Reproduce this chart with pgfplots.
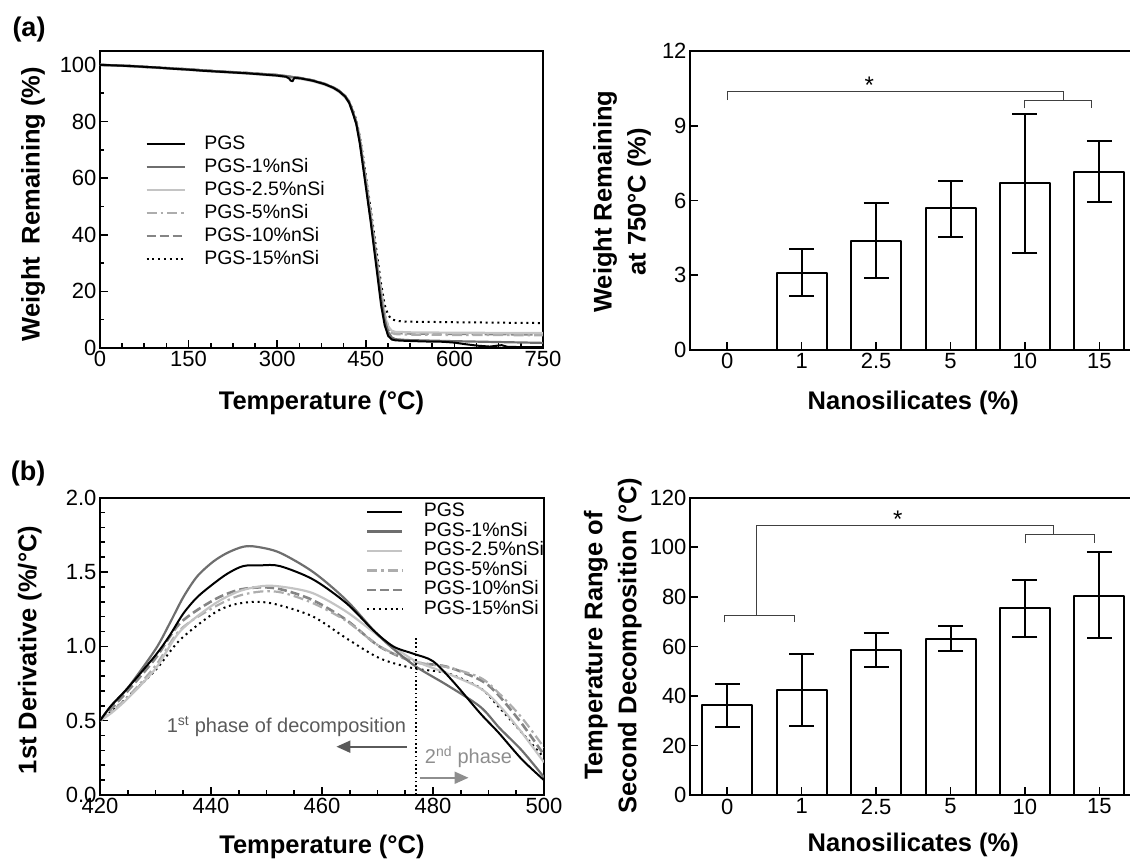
\documentclass[border=0pt]{standalone}
\usepackage{fontspec}
\setmainfont{Liberation Sans}
\usepackage{pgfplots}
\pgfplotsset{compat=1.18}
\usetikzlibrary{arrows.meta}

\definecolor{cOne}{HTML}{6E6E6E}
\definecolor{cTwo}{HTML}{C4C4C4}
\definecolor{cFive}{HTML}{ADADAD}
\definecolor{cTen}{HTML}{858585}
\definecolor{txtA}{HTML}{5A5A5A}
\definecolor{txtB}{HTML}{8E8E8E}

\newcommand{\tickfont}{\fontsize{22}{26}\selectfont}
\newcommand{\labfont}{\bfseries\fontsize{25.5}{34}\selectfont}
\newcommand{\legfont}{\fontsize{19.5}{22}\selectfont}

\tikzset{bracket/.style={line width=1pt, black!75}}

\pgfplotsset{
  panel/.style={
    scale only axis,
    tick pos=left,
    tick align=inside,
    major tick length=8pt,
    minor tick length=4.5pt,
    tick style={line width=1.6pt, black},
    axis line style={line width=1.8pt},
    tick label style={font=\tickfont},
    /pgf/number format/assume math mode=true,
    label style={font=\labfont},
    every axis plot/.append style={line join=round},
  },
  s0/.style={black, line width=2pt},
  s1/.style={cOne, line width=2.2pt},
  s25/.style={cTwo, line width=2.2pt},
  s5/.style={cFive, line width=2.2pt, dash pattern=on 10pt off 4pt on 2.5pt off 4pt},
  s10/.style={cTen, line width=2.6pt, dash pattern=on 9pt off 4pt},
  s15/.style={black, line width=2pt, dash pattern=on 2pt off 3.8pt},
  barstyle/.style={ybar, bar width=50pt, draw=black, fill=white, line width=2pt,
    error bars/.cd, y dir=both, y explicit,
    error bar style={line width=2pt},
    error mark options={rotate=90, mark size=12.5pt, line width=2pt}},
}

\begin{document}
\begin{tikzpicture}
\path[use as bounding box] (0,0) rectangle (1130pt,862pt);
\clip (0,0) rectangle (1130pt,862pt);

% (a) TGA curves
\begin{axis}[panel,
  at={(100pt,811.3pt)}, anchor=north west,
  width=443pt, height=297.3pt,
  xmin=0, xmax=750, ymin=0, ymax=105,
  xtick={0,150,...,750}, ytick={0,20,...,100},
  minor x tick num=3, minor y tick num=1,
  xlabel={Temperature (°C)},
  ylabel={Weight\hspace{0.5em}Remaining (\%)},
  xlabel style={at={(axis description cs:0.5,-0.185)}, anchor=center},
  ylabel style={at={(axis description cs:-0.151,0.484)}, anchor=center},
  legend style={at={(0.1016,0.7165)}, anchor=north west, draw=none, fill=none,
    inner sep=0pt, row sep=5pt, column sep=18.5pt, font=\legfont,
    nodes={inner sep=0pt, text height=14pt, text depth=4pt}},
  legend cell align=left, reverse legend,
  legend image code/.code={\draw[#1] (0pt,0pt) -- (38pt,0pt);},
]
\addplot[s15] coordinates {(0,100) (50,99.6) (100,99.0) (150,98.4) (200,97.7) (250,97.1) (300,96.4) (340,95.3) (360,94.5) (380,93.3) (395,92.0) (405,90.8) (415,89.0) (422,87.0) (428,84.0) (434,80.5) (440,74.5) (446,67) (452,58) (458,49.5) (464,40.5) (470,31.5) (476,22.5) (482,15.2) (488,11.6) (494,10.1) (505,9.5) (520,9.3) (600,9.1) (700,8.9) (750,8.8)};
\addlegendentry{PGS-15\%nSi}
\addplot[s10] coordinates {(0,100) (50,99.6) (100,99.0) (150,98.4) (200,97.7) (250,97.1) (300,96.4) (340,95.3) (360,94.5) (380,93.3) (395,92.0) (405,90.8) (415,88.9) (422,86.8) (428,83.4) (434,79.6) (440,73.5) (446,65) (452,56.5) (458,47.5) (464,38) (470,28.5) (476,19.5) (482,11.6) (488,7.3) (494,5.7) (500,5.3) (530,5.1) (600,5.0) (750,4.8)};
\addlegendentry{PGS-10\%nSi}
\addplot[s5] coordinates {(0,100) (50,99.6) (100,99.0) (150,98.4) (200,97.7) (250,97.1) (300,96.4) (340,95.3) (360,94.5) (380,93.3) (395,92.0) (405,90.8) (415,88.9) (422,86.8) (428,83.4) (434,79.6) (440,73.5) (446,65) (452,56.5) (458,47.5) (464,38) (470,28.5) (476,19.5) (482,11.3) (488,6.9) (494,5.3) (500,4.9) (530,4.7) (600,4.6) (750,4.5)};
\addlegendentry{PGS-5\%nSi}
\addplot[s25] coordinates {(0,100) (50,99.5) (100,98.9) (150,98.2) (200,97.5) (250,96.9) (300,96.1) (340,95.0) (360,94.2) (380,93.0) (395,91.7) (405,90.4) (415,88.5) (422,86.5) (428,83.2) (434,79.5) (440,73.5) (446,65) (452,56) (458,47) (464,37.5) (470,28) (476,19) (482,11.3) (488,7.5) (494,6.1) (500,5.7) (530,5.5) (600,5.4) (700,5.3) (750,5.3)};
\addlegendentry{PGS-2.5\%nSi}
\addplot[s1] coordinates {(0,100) (50,99.6) (100,99.0) (150,98.4) (200,97.7) (250,97.1) (300,96.4) (340,95.3) (360,94.5) (380,93.3) (395,92.0) (405,90.8) (415,89.0) (422,86.8) (428,83.5) (434,79.5) (440,73) (446,64) (452,55) (458,46) (464,36.5) (470,27) (476,17.5) (482,10) (488,5.6) (494,3.7) (500,3.1) (520,2.8) (560,2.6) (600,2.4) (650,2.2) (700,2.0) (750,1.8)};
\addlegendentry{PGS-1\%nSi}
\addplot[s0] coordinates {(0,100) (25,99.8) (50,99.6) (75,99.3) (100,99.0) (125,98.6) (150,98.3) (175,97.9) (200,97.6) (225,97.3) (250,97.0) (275,96.6) (300,96.2) (315,95.8) (320,95.2) (323,94.4) (326,94.2) (329,95.4) (340,95.2) (360,94.4) (380,93.2) (395,91.9) (405,90.6) (415,88.8) (422,86.5) (428,83) (434,79) (440,72) (446,63) (452,54) (458,45) (464,35) (470,25) (476,15) (482,8) (488,4.2) (494,3.0) (500,2.7) (520,2.5) (550,2.3) (580,2.2) (600,1.9) (620,1.3) (640,0.8) (660,0.5) (680,1.0) (690,0.4) (720,0.3) (750,0.3)};
\addlegendentry{PGS}
\end{axis}

% (a) residue bars
\begin{axis}[panel,
  at={(690pt,811pt)}, anchor=north west,
  width=446.6pt, height=299pt,
  xmin=-0.5, xmax=5.5, ymin=0, ymax=12,
  xtick={0,...,5}, xticklabels={0,1,2.5,5,10,15},
  ytick={0,3,...,12},
  axis on top,
  xlabel={Nanosilicates (\%)},
  ylabel={Weight Remaining\\at 750°C (\%)},
  xlabel style={at={(axis description cs:0.5,-0.177)}, anchor=center},
  ylabel style={align=center, at={(axis description cs:-0.152,0.496)}, anchor=center},
]
\addplot[barstyle] coordinates {
  (1,3.11) += (0,0.94) -= (0,0.93)
  (2,4.38) += (0,1.50) -= (0,1.48)
  (3,5.68) += (0,1.10) -= (0,1.16)
  (4,6.70) += (0,2.77) -= (0,2.82)
  (5,7.14) += (0,1.25) -= (0,1.22)
};
\draw[bracket] (axis cs:0,10.03) -- (axis cs:0,10.37) -- (axis cs:4.515,10.37) -- (axis cs:4.515,10.03);
\draw[bracket] (axis cs:4.0,9.70) -- (axis cs:4.0,10.03) -- (axis cs:4.9,10.03) -- (axis cs:4.9,9.70);
\node[font=\fontsize{24}{26}\selectfont, yshift=-4.5pt] at (axis cs:1.91,10.82) {*};
\end{axis}

% (b) DTG curves
\begin{axis}[panel,
  at={(100pt,364.3pt)}, anchor=north west,
  width=444pt, height=297.3pt,
  xmin=420, xmax=500, ymin=0, ymax=2,
  xtick={420,440,...,500}, ytick={0,0.5,...,2},
  minor x tick num=3, minor y tick num=4,
  yticklabel style={/pgf/number format/.cd, fixed, fixed zerofill, precision=1},
  xlabel={Temperature (°C)},
  ylabel={1st Derivative (\%/°C)},
  xlabel style={at={(axis description cs:0.5,-0.175)}, anchor=center},
  ylabel style={at={(axis description cs:-0.158,0.488)}, anchor=center},
  legend style={at={(0.599,0.983)}, anchor=north west, draw=none, fill=none,
    inner sep=0pt, row sep=1.5pt, column sep=20pt, font=\legfont,
    nodes={inner sep=0pt, text height=14pt, text depth=4pt}},
  legend cell align=left, reverse legend,
  legend image code/.code={\draw[#1] (0pt,0pt) -- (35pt,0pt);},
]
\addplot[s15, smooth] coordinates {(420,0.50) (422,0.56) (425,0.66) (430,0.84) (434.4,1.043) (440.4,1.22) (444,1.28) (448.2,1.30) (452,1.28) (458.4,1.20) (464.4,1.054) (470.4,0.92) (476.5,0.852) (482.5,0.82) (488.5,0.72) (491.8,0.594) (496,0.42) (500,0.25)};
\addlegendentry{PGS-15\%nSi}
\addplot[s10, smooth] coordinates {(420,0.50) (422,0.58) (425,0.70) (430,0.92) (434.4,1.155) (440.4,1.31) (445,1.38) (449.4,1.397) (453,1.38) (458.4,1.31) (464.4,1.177) (470.4,0.998) (476.5,0.897) (482.5,0.863) (488.5,0.774) (491.5,0.684) (496,0.48) (500,0.27)};
\addlegendentry{PGS-10\%nSi}
\addplot[s5, smooth] coordinates {(420,0.50) (422,0.56) (425,0.66) (430,0.87) (434.4,1.11) (440.4,1.26) (445,1.34) (449.4,1.37) (453,1.36) (458.4,1.29) (464.4,1.17) (470.4,1.0) (476.5,0.90) (482.5,0.86) (488.5,0.79) (492,0.68) (496,0.52) (500,0.32)};
\addlegendentry{PGS-5\%nSi}
\addplot[s25, smooth] coordinates {(420,0.50) (422,0.55) (425,0.65) (430,0.85) (434.4,1.10) (440.4,1.28) (445,1.37) (449.4,1.406) (453,1.40) (458.4,1.357) (464.4,1.233) (470.4,1.065) (476.5,0.908) (482.5,0.819) (488.5,0.718) (492,0.60) (496,0.42) (500,0.22)};
\addlegendentry{PGS-2.5\%nSi}
\addplot[s1, smooth] coordinates {(420,0.50) (422,0.60) (425,0.72) (430,0.98) (432.5,1.15) (435,1.33) (437.5,1.47) (440.4,1.57) (443,1.63) (445.8,1.67) (448.2,1.67) (452.4,1.63) (458.4,1.50) (464.4,1.31) (470.4,1.065) (476.5,0.875) (482.5,0.74) (488.5,0.594) (492,0.45) (496,0.30) (500,0.12)};
\addlegendentry{PGS-1\%nSi}
\addplot[s0, smooth] coordinates {(420,0.50) (422,0.60) (425,0.72) (430,0.94) (432.5,1.07) (435,1.22) (437.5,1.33) (440.4,1.42) (443,1.49) (445.8,1.54) (449,1.545) (452.4,1.54) (458.4,1.45) (464.4,1.29) (469.2,1.11) (472.8,1.00) (476.5,0.95) (480,0.90) (483.7,0.76) (488.5,0.55) (491.8,0.42) (496,0.24) (500,0.10)};
\addlegendentry{PGS}
\addplot[black, line width=1.6pt, dash pattern=on 1.6pt off 2.6pt, forget plot] coordinates {(476.9,0) (476.9,1.056)};
\node[anchor=west, text=txtA, font=\fontsize{20}{22}\selectfont] at (axis cs:431.4,0.46) {1\textsuperscript{st} phase of decomposition};
\draw[-{Triangle[length=14pt,width=12pt]}, line width=2pt, color=txtA] (axis cs:475.3,0.325) -- (axis cs:462.6,0.325);
\node[anchor=west, text=txtB, font=\fontsize{20}{22}\selectfont] at (axis cs:477.9,0.256) {2\textsuperscript{nd} phase};
\draw[-{Triangle[length=14pt,width=12pt]}, line width=2pt, color=txtB] (axis cs:477.6,0.116) -- (axis cs:486.4,0.116);
\end{axis}

% (b) second decomposition range bars
\begin{axis}[panel,
  at={(690pt,364.3pt)}, anchor=north west,
  width=446.6pt, height=297.5pt,
  xmin=-0.5, xmax=5.5, ymin=0, ymax=120,
  xtick={0,...,5}, xticklabels={0,1,2.5,5,10,15},
  ytick={0,20,...,120},
  axis on top,
  xlabel={Nanosilicates (\%)},
  ylabel={Temperature Range of\\Second Decomposition (°C)},
  xlabel style={at={(axis description cs:0.5,-0.166)}, anchor=center},
  ylabel style={align=center, at={(axis description cs:-0.173,0.503)}, anchor=center},
]
\addplot[barstyle] coordinates {
  (0,36.5) += (0,8.5) -= (0,9.0)
  (1,42.6) += (0,14.3) -= (0,14.5)
  (2,58.7) += (0,6.7) -= (0,7.0)
  (3,63.2) += (0,5.1) -= (0,4.9)
  (4,75.6) += (0,11.0) -= (0,11.6)
  (5,80.5) += (0,17.5) -= (0,16.9)
};
\draw[bracket] (axis cs:-0.04,69.7) -- (axis cs:-0.04,72.3) -- (axis cs:0.91,72.3) -- (axis cs:0.91,69.7);
\draw[bracket] (axis cs:0.40,72.3) -- (axis cs:0.40,108.7) -- (axis cs:4.39,108.7) -- (axis cs:4.39,105);
\draw[bracket] (axis cs:4.01,101.6) -- (axis cs:4.01,105) -- (axis cs:4.94,105) -- (axis cs:4.94,101.6);
\node[font=\fontsize{24}{26}\selectfont, yshift=-4.5pt] at (axis cs:2.29,113) {*};
\end{axis}

\node[font=\bfseries\fontsize{27}{30}\selectfont] at (29pt,832pt) {(a)};
\node[font=\bfseries\fontsize{27}{30}\selectfont] at (28pt,388pt) {(b)};
\end{tikzpicture}
\end{document}
